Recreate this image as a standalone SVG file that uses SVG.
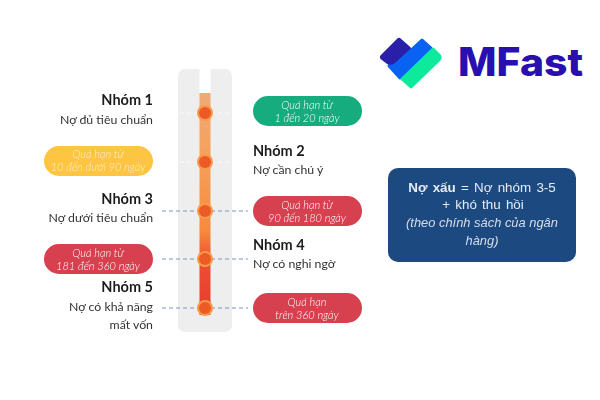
<svg xmlns="http://www.w3.org/2000/svg" width="600" height="400" viewBox="0 0 600 400">
<defs>
<linearGradient id="bar" x1="0" y1="93" x2="0" y2="315" gradientUnits="userSpaceOnUse">
<stop offset="0" stop-color="#eeaa78"/><stop offset="0.3" stop-color="#f5a05a"/><stop offset="0.62" stop-color="#f98a3c"/><stop offset="0.75" stop-color="#ee4f35"/><stop offset="1" stop-color="#e83a2e"/>
</linearGradient>
<filter id="soft" x="-5%" y="-5%" width="110%" height="110%"><feGaussianBlur stdDeviation="0.4"/></filter>
</defs>
<style>
text{font-family:Lato,"Noto Sans",sans-serif;}
.h{font-size:14.5px;font-weight:700;fill:#1f1f1f;}
.s{font-size:12.3px;fill:#333;}
.p{font-size:11px;font-weight:300;font-style:italic;fill:#fff;text-anchor:middle;}
.f{fill-opacity:.7;}
.e{text-anchor:end;}
.w{stroke:#fff;stroke-opacity:.75;stroke-width:1;stroke-dasharray:4 3;fill:none;}
.d{stroke:#7f92c8;stroke-width:1;stroke-dasharray:4 3;fill:none;}
.o{fill:#f79a4a;}.i{fill:#ec5a28;}
.b{font-family:"Liberation Sans",Arial,sans-serif;font-size:13.4px;fill:#e6ebf3;text-anchor:middle;word-spacing:1.5px;}
.c{font-size:12.9px;font-style:italic;word-spacing:0;fill:#d5dde9;}
</style>
<rect width="600" height="400" fill="#fff"/>
<g id="track" filter="url(#soft)">
<rect x="178" y="69" width="54" height="263" rx="7" fill="#eeeeee"/>
<rect x="199.5" y="69" width="11" height="24" fill="#fff"/>
<rect x="199.5" y="93" width="11" height="222" fill="url(#bar)"/>
</g>
<g id="connectors" filter="url(#soft)">
<path class="w" d="M180 113H199M211 113H230M180 162H199M211 162H230"/>
<path class="d" d="M162 211H248M162 259H248M162 308H248"/>
</g>
<g id="dots" filter="url(#soft)">
<circle class="o" cx="205" cy="113" r="8"/><circle class="i" cx="205" cy="113" r="6"/>
<circle class="o" cx="205" cy="162" r="8"/><circle class="i" cx="205" cy="162" r="6"/>
<circle class="o" cx="205" cy="211" r="8"/><circle class="i" cx="205" cy="211" r="6"/>
<circle class="o" cx="205" cy="259" r="8"/><circle class="i" cx="205" cy="259" r="6"/>
<circle class="o" cx="205" cy="308" r="8"/><circle class="i" cx="205" cy="308" r="6"/>
</g>
<g id="nhom1" filter="url(#soft)"><text class="h e" x="153" y="105">Nhóm 1</text><text class="s e" x="153" y="124">Nợ đủ tiêu chuẩn</text></g>
<g id="qua-han-10-90" filter="url(#soft)"><rect x="44" y="146" width="109" height="30" rx="15" fill="#fdc543"/><text class="p f" x="98" y="158">Quá hạn từ</text><text class="p f" x="98" y="171">10 đến dưới 90 ngày</text></g>
<g id="nhom3" filter="url(#soft)"><text class="h e" x="153" y="204">Nhóm 3</text><text class="s e" x="153" y="222">Nợ dưới tiêu chuẩn</text></g>
<g id="qua-han-181-360" filter="url(#soft)"><rect x="44" y="244" width="109" height="30" rx="15" fill="#d63f50"/><text class="p" x="98" y="257">Quá hạn từ</text><text class="p" x="98" y="270">181 đến 360 ngày</text></g>
<g id="nhom5" filter="url(#soft)"><text class="h e" x="153" y="292">Nhóm 5</text><text class="s e" x="153" y="311">Nợ có khả năng</text><text class="s e" x="153" y="329">mất vốn</text></g>
<g id="qua-han-1-20" filter="url(#soft)"><rect x="253" y="96" width="109" height="30" rx="15" fill="#16ac7e"/><text class="p" x="307" y="109">Quá hạn từ</text><text class="p" x="307" y="122">1 đến 20 ngày</text></g>
<g id="nhom2" filter="url(#soft)"><text class="h" x="253" y="156">Nhóm 2</text><text class="s" x="253" y="174">Nợ cần chú ý</text></g>
<g id="qua-han-90-180" filter="url(#soft)"><rect x="253" y="196" width="109" height="30" rx="15" fill="#d63f50"/><text class="p" x="307" y="209">Quá hạn từ</text><text class="p" x="307" y="222">90 đến 180 ngày</text></g>
<g id="nhom4" filter="url(#soft)"><text class="h" x="253" y="250">Nhóm 4</text><text class="s" x="253" y="268">Nợ có nghi ngờ</text></g>
<g id="qua-han-360" filter="url(#soft)"><rect x="253" y="293" width="109" height="30" rx="15" fill="#d63f50"/><text class="p" x="307" y="306">Quá hạn</text><text class="p" x="307" y="319">trên 360 ngày</text></g>
<g id="no-xau" filter="url(#soft)"><rect x="388" y="168" width="188" height="94" rx="10" fill="#1d4a80"/>
<text class="b" x="482" y="192"><tspan font-weight="700">Nợ xấu</tspan> = Nợ nhóm 3-5</text>
<text class="b" x="483" y="209">+ khó thu hồi</text>
<text class="b c" x="482" y="227">(theo chính sách của ngân</text>
<text class="b c" x="482" y="245">hàng)</text></g>
<g id="logo" stroke-linejoin="round">
<path d="M399 41L408 49L391 63L383 57Z" fill="#2a1fa8" stroke="#2a1fa8" stroke-width="6"/>
<path d="M422 40L431 48L400 78L389 66Q392 67 395 65Z" fill="#0a62f2" stroke="#0a62f2" stroke-width="3"/>
<path d="M433 49L439 55Q441 57 439 60L411 87L402 79Z" fill="#0eea9c" stroke="#0eea9c" stroke-width="3"/>
<text x="458" y="76" font-size="39" font-weight="800" fill="#2a0fb0" textLength="125" lengthAdjust="spacingAndGlyphs" style="font-family:Inter,Roboto,sans-serif">MFast</text>
</g>
</svg>
